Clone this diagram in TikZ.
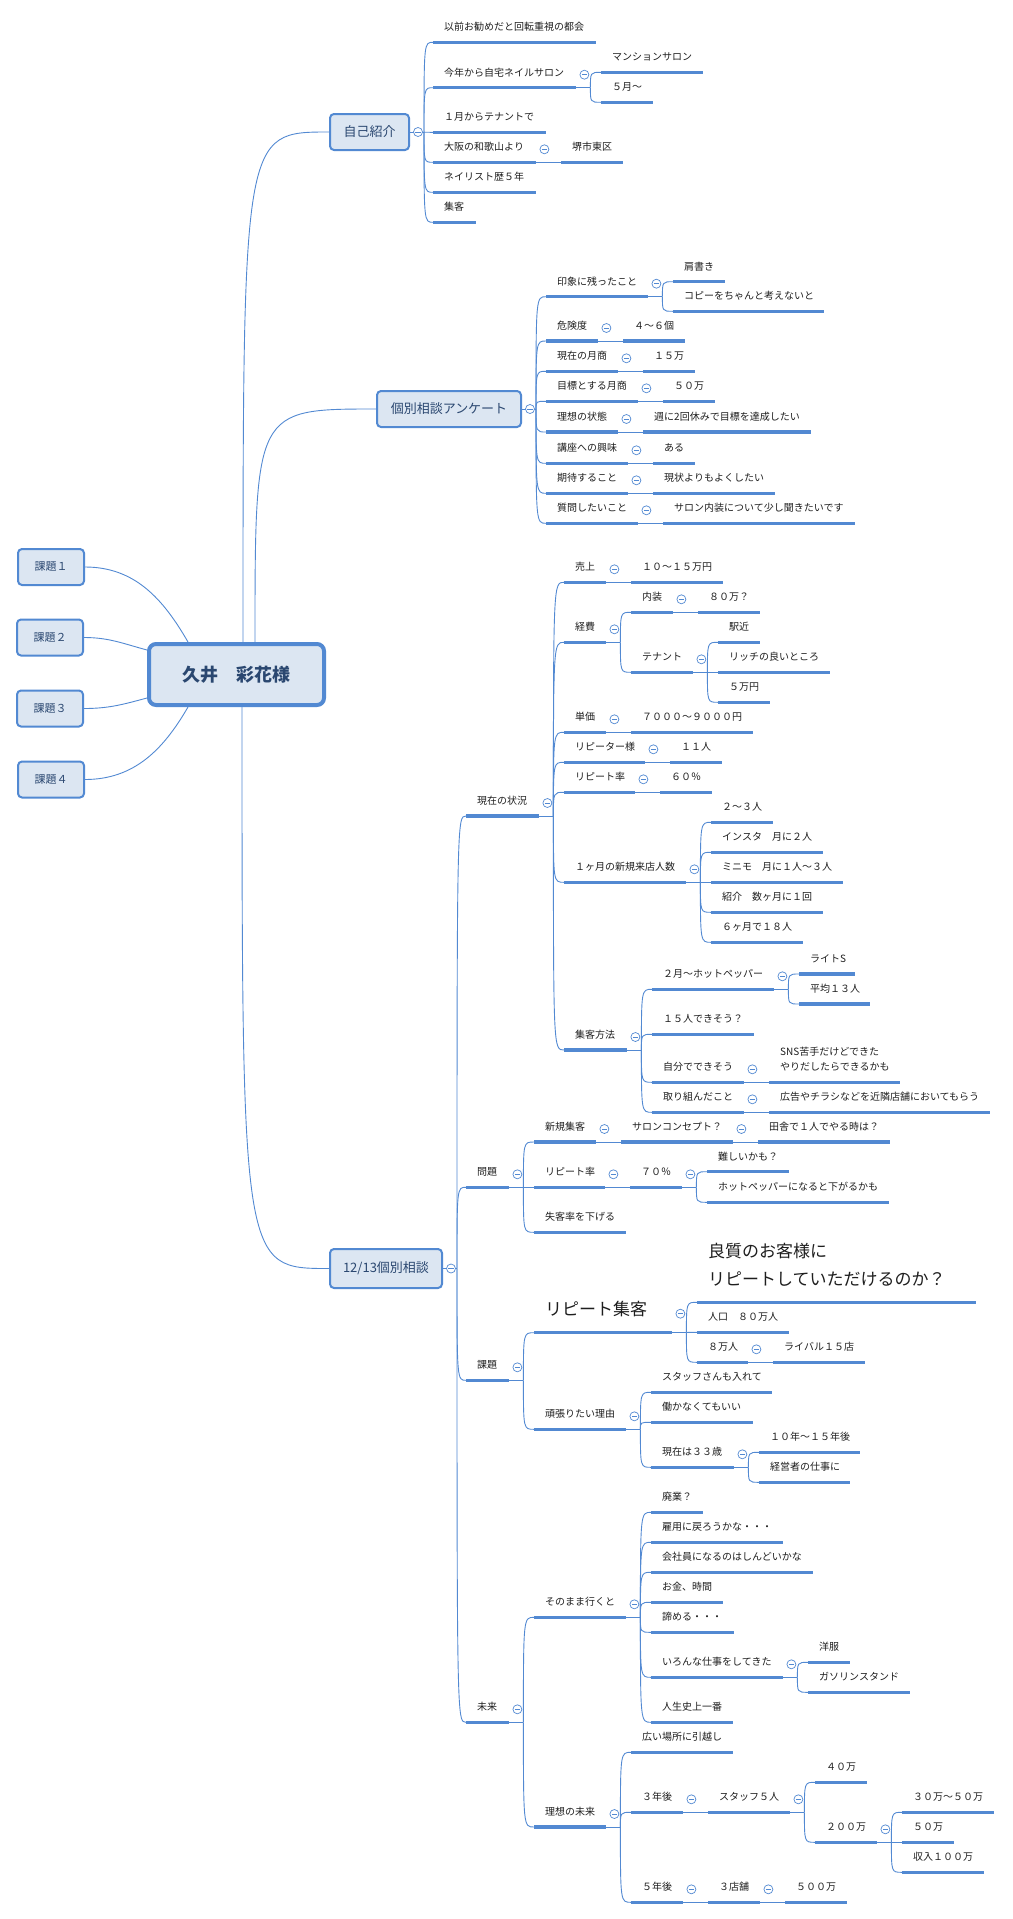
\documentclass[tikz,border=0pt]{standalone}
\usepackage{fontspec}
\setmainfont{Noto Sans CJK JP}
\usepackage{xcolor}
\usepackage{tikz}
\usetikzlibrary{positioning, calc}
\definecolor{mBlue}{HTML}{5289D2}
\definecolor{mFill}{HTML}{DCE6F2}
\definecolor{mNavy}{HTML}{2A4770}
\definecolor{mInk}{HTML}{1E1E1E}

\tikzset{
  uline/.style={draw=mBlue, line width=3.2pt},
  conn/.style={draw=mBlue, line width=0.9pt},
  topic/.style={anchor=south west, inner sep=0pt, text depth=11.4pt, text=mInk,
    font=\fontsize{10}{15.7}\selectfont,
    execute at begin node={\hbox to #1pt\bgroup\hspace*{11pt}},
    execute at end node={\hfil\egroup},
    append after command={(\tikzlastnode.south west) edge[uline] (\tikzlastnode.south east)}},
  bigtopic/.style={font=\fontsize{17}{27.3}\selectfont, text depth=17pt},
  mainbox/.style={draw=mBlue, fill=mFill, line width=2pt, rounded corners=4pt, text=mNavy,
    font=\fontsize{13}{15}\selectfont, minimum height=36pt, inner sep=0pt},
  sidebox/.style={mainbox, font=\fontsize{11}{13}\selectfont, minimum width=66pt},
  rootbox/.style={mainbox, line width=4pt, rounded corners=7pt, minimum width=175pt,
    minimum height=61pt, font=\fontsize{18}{20}\selectfont\bfseries},
  fold/.pic={\draw[mBlue, fill=white, line width=0.7pt] (0,0) circle (4.5pt);
    \draw[mBlue, line width=0.7pt] (-2.6pt,0) -- (2.6pt,0);}
}

\begin{document}
\begin{tikzpicture}[x=1pt, y=1pt]
  \useasboundingbox (0,0) rectangle (1012,-1919);

  % central topic and floating topics
  \node[rootbox] (root) at (236.5,-674.5) {久井　彩花様};
  \node[sidebox] (kd1) at (51,-567) {課題１};
  \node[sidebox] (kd2) at (50,-637.5) {課題２};
  \node[sidebox] (kd3) at (50,-708.5) {課題３};
  \node[sidebox] (kd4) at (51,-779.5) {課題４};

  % main topics
  \node[mainbox, minimum width=79pt] (ziko) at (369.5,-132) {自己紹介};
  \node[mainbox, minimum width=144pt] (anke) at (449,-409) {個別相談アンケート};
  \node[mainbox, minimum width=112pt, minimum height=39pt] (soudan) at (386,-1268.5) {12/13個別相談};

  % 自己紹介
  \node[topic=163] (z1) at (433,-42.3) {以前お勧めだと回転重視の都会};
  \node[topic=143] (z2) at (433,-87.7) {今年から自宅ネイルサロン};
  \node[topic=102] (z21) at (601,-72.3) {マンションサロン};
  \node[topic=52] (z22) at (601,-102.3) {５月～};
  \node[topic=113] (z3) at (433,-132.3) {１月からテナントで};
  \node[topic=103] (z4) at (433,-162.3) {大阪の和歌山より};
  \node[topic=62] (z41) at (561,-162.3) {堺市東区};
  \node[topic=103] (z5) at (433,-192.3) {ネイリスト歴５年};
  \node[topic=43] (z6) at (433,-222.3) {集客};

  % 個別相談アンケート
  \node[topic=102] (a1) at (546,-296.7) {印象に残ったこと};
  \node[topic=52] (a11) at (673,-281.7) {肩書き};
  \node[topic=151] (a12) at (673,-311.3) {コピーをちゃんと考えないと};
  \node[topic=52] (a2) at (546,-341) {危険度};
  \node[topic=62] (a21) at (623,-341) {４～６個};
  \node[topic=72] (a3) at (546,-371.3) {現在の月商};
  \node[topic=52] (a31) at (643,-371.3) {１５万};
  \node[topic=92] (a4) at (546,-401.3) {目標とする月商};
  \node[topic=52] (a41) at (663,-401.3) {５０万};
  \node[topic=72] (a5) at (546,-432) {理想の状態};
  \node[topic=168] (a51) at (643,-432) {週に2回休みで目標を達成したい};
  \node[topic=82] (a6) at (546,-463.3) {講座への興味};
  \node[topic=42] (a61) at (653,-463.3) {ある};
  \node[topic=82] (a7) at (546,-493.3) {期待すること};
  \node[topic=122] (a71) at (653,-493.3) {現状よりもよくしたい};
  \node[topic=92] (a8) at (546,-523.3) {質問したいこと};
  \node[topic=192] (a81) at (663,-523.3) {サロン内装について少し聞きたいです};

  % 12/13個別相談
  \node[topic=73] (g) at (466,-816) {現在の状況};
  \node[topic=43] (m) at (466,-1187.3) {問題};
  \node[topic=43] (k) at (466,-1380.3) {課題};
  \node[topic=43] (f) at (466,-1722.3) {未来};

  % 現在の状況
  \node[topic=42] (g1) at (564,-582.3) {売上};
  \node[topic=92] (g11) at (631,-582.3) {１０～１５万円};
  \node[topic=42] (g2) at (564,-642.3) {経費};
  \node[topic=42] (g21) at (631,-612.3) {内装};
  \node[topic=62] (g211) at (698,-612.3) {８０万？};
  \node[topic=62] (g22) at (631,-672.3) {テナント};
  \node[topic=42] (g221) at (718,-642.3) {駅近};
  \node[topic=112] (g222) at (718,-672.3) {リッチの良いところ};
  \node[topic=52] (g223) at (718,-702.3) {５万円};
  \node[topic=42] (g3) at (564,-732.3) {単価};
  \node[topic=122] (g31) at (631,-732.3) {７０００～９０００円};
  \node[topic=81] (g4) at (564,-762.3) {リピーター様};
  \node[topic=52] (g41) at (670,-762.3) {１１人};
  \node[topic=71] (g5) at (564,-792.3) {リピート率};
  \node[topic=52] (g51) at (660,-792.3) {６０％};
  \node[topic=122] (g6) at (564,-882.3) {１ヶ月の新規来店人数};
  \node[topic=62] (g61) at (711,-822.3) {２～３人};
  \node[topic=112] (g62) at (711,-852.3) {インスタ　月に２人};
  \node[topic=132] (g63) at (711,-882.3) {ミニモ　月に１人～３人};
  \node[topic=112] (g64) at (711,-912.3) {紹介　数ヶ月に１回};
  \node[topic=92] (g65) at (711,-942.3) {６ヶ月で１８人};
  \node[topic=63] (g7) at (564,-1050) {集客方法};
  \node[topic=122] (g71) at (652,-989.3) {２月～ホットペッパー};
  \node[topic=56] (g711) at (799,-974) {ライトS};
  \node[topic=71] (g712) at (799,-1004) {平均１３人};
  \node[topic=102] (g72) at (652,-1034.3) {１５人できそう？};
  \node[topic=92] (g73) at (652,-1082.3) {自分でできそう};
  \node[topic=131] (g731) at (769,-1082.3)
    {\begin{tabular}[b]{@{}l@{}}SNS苦手だけどできた\\やりだしたらできるかも\end{tabular}};
  \node[topic=92] (g74) at (652,-1112.3) {取り組んだこと};
  \node[topic=221] (g741) at (769,-1112.3) {広告やチラシなどを近隣店舗においてもらう};

  % 問題
  \node[topic=62] (m1) at (534,-1142) {新規集客};
  \node[topic=112] (m11) at (621,-1142) {サロンコンセプト？};
  \node[topic=132] (m111) at (758,-1142) {田舎で１人でやる時は？};
  \node[topic=71] (m2) at (534,-1187.3) {リピート率};
  \node[topic=52] (m21) at (630,-1187.3) {７０％};
  \node[topic=82] (m211) at (707,-1171.7) {難しいかも？};
  \node[topic=182] (m212) at (707,-1202.3) {ホットペッパーになると下がるかも};
  \node[topic=92] (m3) at (534,-1232.3) {失客率を下げる};

  % 課題
  \node[topic=138, bigtopic] (k1) at (534,-1332.7) {リピート集客};
  \node[topic=279, bigtopic] (k11) at (697,-1302.3)
    {\begin{tabular}[b]{@{}l@{}}良質のお客様に\\リピートしていただけるのか？\end{tabular}};
  \node[topic=92] (k12) at (697,-1332.3) {人口　８０万人};
  \node[topic=51] (k13) at (697,-1362.3) {８万人};
  \node[topic=92] (k131) at (773,-1362.3) {ライバル１５店};
  \node[topic=92] (k2) at (534,-1429.3) {頑張りたい理由};
  \node[topic=121] (k21) at (651,-1392.3) {スタッフさんも入れて};
  \node[topic=102] (k22) at (651,-1422.3) {働かなくてもいい};
  \node[topic=83] (k23) at (651,-1467.3) {現在は３３歳};
  \node[topic=101] (k231) at (759,-1452.3) {１０年～１５年後};
  \node[topic=91] (k232) at (759,-1482.3) {経営者の仕事に};

  % 未来
  \node[topic=92] (f1) at (534,-1617.3) {そのまま行くと};
  \node[topic=52] (f11) at (651,-1512.3) {廃業？};
  \node[topic=132] (f12) at (651,-1542.3) {雇用に戻ろうかな・・・};
  \node[topic=162] (f13) at (651,-1572.3) {会社員になるのはしんどいかな};
  \node[topic=72] (f14) at (651,-1602.3) {お金、時間};
  \node[topic=83] (f15) at (651,-1632.3) {諦める・・・};
  \node[topic=132] (f16) at (651,-1677.3) {いろんな仕事をしてきた};
  \node[topic=42] (f161) at (808,-1662.3) {洋服};
  \node[topic=102] (f162) at (808,-1692.3) {ガソリンスタンド};
  \node[topic=82] (f17) at (651,-1722.3) {人生史上一番};
  \node[topic=72] (f2) at (534,-1827) {理想の未来};
  \node[topic=102] (f21) at (631,-1752.3) {広い場所に引越し};
  \node[topic=52] (f22) at (631,-1812.3) {３年後};
  \node[topic=82] (f221) at (708,-1812.3) {スタッフ５人};
  \node[topic=52] (f2211) at (815,-1782.3) {４０万};
  \node[topic=62] (f2212) at (815,-1842.3) {２００万};
  \node[topic=92] (f22121) at (902,-1812.3) {３０万～５０万};
  \node[topic=52] (f22122) at (902,-1842.3) {５０万};
  \node[topic=82] (f22123) at (902,-1872.3) {収入１００万};
  \node[topic=52] (f23) at (631,-1902.3) {５年後};
  \node[topic=52] (f231) at (708,-1902.3) {３店舗};
  \node[topic=62] (f2311) at (785,-1902.3) {５００万};

  % connectors from the central topic
  \coordinate (rt1) at ([xshift=6.5pt]root.north);
  \coordinate (rt2) at ([xshift=18.5pt]root.north);
  \coordinate (rb1) at ([xshift=5.5pt]root.south);
  \draw[conn] (rt1) .. controls (rt1 |- ziko.west) .. (ziko.west);
  \draw[conn] (rt2) .. controls (rt2 |- anke.west) .. (anke.west);
  \draw[conn] (rb1) .. controls (rb1 |- soudan.west) .. (soudan.west);
  \draw[conn] (kd1.east) to[out=0, in=120] ([xshift=41pt]root.north west);
  \draw[conn] (kd2.east) to[out=0, in=165] ([yshift=-8pt]root.north west);
  \draw[conn] (kd3.east) to[out=0, in=195] ([yshift=9pt]root.south west);
  \draw[conn] (kd4.east) to[out=0, in=240] ([xshift=41pt]root.south west);

  % branches with several subtopics
  \foreach \p/\kids in {ziko/{z1,z2,z3,z4,z5,z6}, anke/{a1,a2,a3,a4,a5,a6,a7,a8},
      soudan/{g,m,k,f}} {
    \draw[conn] (\p.east) -- ++(14,0) coordinate (j\p);
    \foreach \c in \kids
      \draw[conn] (j\p) .. controls (j\p |- \c.south west) .. (\c.south west);
  }
  \foreach \p/\kids in {z2/{z21,z22}, a1/{a11,a12}, g/{g1,g2,g3,g4,g5,g6,g7},
      g2/{g21,g22}, g22/{g221,g222,g223}, g6/{g61,g62,g63,g64,g65},
      g7/{g71,g72,g73,g74}, g71/{g711,g712}, m/{m1,m2,m3}, m21/{m211,m212},
      k/{k1,k2}, k1/{k11,k12,k13}, k2/{k21,k22,k23}, k23/{k231,k232},
      f/{f1,f2}, f1/{f11,f12,f13,f14,f15,f16,f17}, f16/{f161,f162},
      f2/{f21,f22,f23}, f221/{f2211,f2212}, f2212/{f22121,f22122,f22123}} {
    \draw[conn] (\p.south east) -- ++(14,0) coordinate (j\p);
    \foreach \c in \kids
      \draw[conn] (j\p) .. controls (j\p |- \c.south west) .. (\c.south west);
  }
  % branches with one subtopic
  \foreach \p/\c in {z4/z41, a2/a21, a3/a31, a4/a41, a5/a51, a6/a61, a7/a71, a8/a81,
      g1/g11, g21/g211, g3/g31, g4/g41, g5/g51, g73/g731, g74/g741, m1/m11, m11/m111,
      m2/m21, k13/k131, f22/f221, f23/f231, f231/f2311}
    \draw[conn] (\p.south east) -- (\c.south west);

  % collapse marks
  \foreach \p in {ziko, anke, soudan}
    \pic at ([xshift=8pt]\p.east) {fold};
  \foreach \p in {z2, z4, a1, a2, a3, a4, a5, a6, a7, a8, g, m, k, f, g1, g2, g21, g22,
      g3, g4, g5, g6, g7, g71, g73, g74, m1, m11, m2, m21, k13, k2, k23, f1, f16, f2,
      f22, f221, f2212, f23, f231}
    \pic at ([shift={(8,13)}]\p.south east) {fold};
  \pic at ([shift={(8,19)}]k1.south east) {fold};
\end{tikzpicture}
\end{document}
